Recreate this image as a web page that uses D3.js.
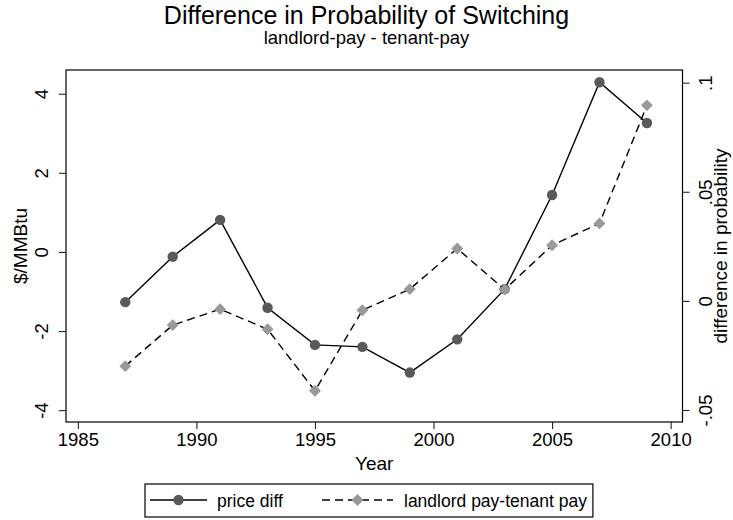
<!DOCTYPE html>
<html>
<head>
<meta charset="utf-8">
<script src="https://cdn.jsdelivr.net/npm/d3@7"></script>
<style>
  body { margin: 0; background: #fff; }
  svg text { font-family: "Liberation Sans", Arial, sans-serif; fill: #000; }
</style>
</head>
<body>
<div id="chart"></div>
<script>
// data
const years = [1987, 1989, 1991, 1993, 1995, 1997, 1999, 2001, 2003, 2005, 2007, 2009];
const priceDiff = [-1.27, -0.12, 0.81, -1.41, -2.35, -2.40, -3.05, -2.21, -0.94, 1.44, 4.29, 3.26];
const probDiff = [-0.0299, -0.0111, -0.0038, -0.0130, -0.0412, -0.0043, 0.0054, 0.0240, 0.0052, 0.0255, 0.0355, 0.0896];
const xTicks = [1985, 1990, 1995, 2000, 2005, 2010];
const leftTicks = [-4, -2, 0, 2, 4];
const rightTicks = [-0.05, 0, 0.05, 0.1];
const rightTickLabels = ["-.05", "0", ".05", ".1"];
const legendLabels = ["price diff", "landlord pay-tenant pay"];

const W = 733, H = 520;
const box = { left: 66, right: 682.5, top: 70, bottom: 422 };

const svg = d3.select("#chart").append("svg")
    .attr("width", W)
    .attr("height", H);

let x = d3.scaleLinear().domain([1984.5, 2010.5]).range([box.left, box.right]);
let y = d3.scaleLinear().domain([-4.3, 4.6]).range([box.bottom, box.top]);
let y2 = d3.scaleLinear().domain([-0.0555, 0.1058]).range([box.bottom, box.top]);

// titles
svg.append("text")
    .attr("x", W / 2).attr("y", 24)
    .attr("text-anchor", "middle")
    .style("font-size", "25px")
    .text("Difference in Probability of Switching");
svg.append("text")
    .attr("x", W / 2).attr("y", 44)
    .attr("text-anchor", "middle")
    .style("font-size", "18.5px")
    .text("landlord-pay - tenant-pay");

// plot region outline
svg.append("rect")
    .attr("x", box.left).attr("y", box.top)
    .attr("width", box.right - box.left)
    .attr("height", box.bottom - box.top)
    .attr("fill", "none")
    .attr("stroke", "#000")
    .attr("stroke-width", 1.2);

// x axis
let gx = svg.append("g")
    .attr("transform", "translate(0," + box.bottom + ")")
    .call(d3.axisBottom(x).tickValues(xTicks).tickSize(7).tickSizeOuter(0).tickFormat(d => String(d)));
gx.select(".domain").remove();
gx.selectAll("text").style("font-size", "18.5px").attr("y", 11).attr("dy", "0.71em");

// left axis
let gl = svg.append("g")
    .attr("transform", "translate(" + box.left + ",0)")
    .call(d3.axisLeft(y).tickValues(leftTicks).tickSize(7).tickSizeOuter(0).tickFormat(d => String(d)));
gl.select(".domain").remove();
gl.selectAll("text")
    .style("font-size", "18.5px")
    .attr("text-anchor", "middle")
    .attr("x", 0).attr("y", -18).attr("dy", 0)
    .attr("transform", "rotate(-90)");

// right axis
let gr = svg.append("g")
    .attr("transform", "translate(" + box.right + ",0)")
    .call(d3.axisRight(y2).tickValues(rightTicks).tickSize(7).tickSizeOuter(0)
        .tickFormat((d, i) => rightTickLabels[i]));
gr.select(".domain").remove();
gr.selectAll("text")
    .style("font-size", "18.5px")
    .attr("text-anchor", "middle")
    .attr("x", 0).attr("y", 29).attr("dy", 0)
    .attr("transform", "rotate(-90)");

svg.selectAll(".tick line").attr("stroke", "#222").attr("stroke-width", 1.1);

// axis titles
svg.append("text")
    .attr("x", (box.left + box.right) / 2).attr("y", 470)
    .attr("text-anchor", "middle")
    .style("font-size", "19px")
    .text("Year");
svg.append("text")
    .attr("transform", "translate(27," + (box.top + box.bottom) / 2 + ")rotate(-90)")
    .attr("text-anchor", "middle")
    .style("font-size", "19px")
    .text("$/MMBtu");
svg.append("text")
    .attr("transform", "translate(727," + (box.top + box.bottom) / 2 + ")rotate(-90)")
    .attr("text-anchor", "middle")
    .style("font-size", "19px")
    .text("difference in probability");

// series 1: price diff
const line1 = d3.line().x((d, i) => x(years[i])).y(d => y(d));
svg.append("path")
    .datum(priceDiff)
    .attr("d", line1)
    .attr("fill", "none")
    .attr("stroke", "#000")
    .attr("stroke-width", 1.4);
svg.selectAll(".dot1")
    .data(priceDiff)
    .enter()
    .append("circle")
    .attr("class", "dot1")
    .attr("cx", (d, i) => x(years[i]))
    .attr("cy", d => y(d))
    .attr("r", 5.2)
    .attr("fill", "#595959");

// series 2: landlord pay - tenant pay
const line2 = d3.line().x((d, i) => x(years[i])).y(d => y2(d));
svg.append("path")
    .datum(probDiff)
    .attr("d", line2)
    .attr("fill", "none")
    .attr("stroke", "#000")
    .attr("stroke-width", 1.4)
    .attr("stroke-dasharray", "8,5");
const diamond = d3.symbol().type(d3.symbolDiamond2).size(90);
svg.selectAll(".dot2")
    .data(probDiff)
    .enter()
    .append("path")
    .attr("class", "dot2")
    .attr("d", diamond)
    .attr("transform", (d, i) => "translate(" + x(years[i]) + "," + y2(d) + ")")
    .attr("fill", "#999999");

// legend
const legY = 500;
const keys = [
    { x0: 150, x1: 207, text: 217, dash: null, mark: "circle" },
    { x0: 322, x1: 393, text: 404, dash: "8,5", mark: "diamond" }
];
let legG = svg.append("g");
let lastEnd = 0;
keys.forEach((k, i) => {
    legG.append("line")
        .attr("x1", k.x0).attr("x2", k.x1)
        .attr("y1", legY).attr("y2", legY)
        .attr("stroke", "#000")
        .attr("stroke-width", 1.4)
        .attr("stroke-dasharray", k.dash);
    const cx = (k.x0 + k.x1) / 2;
    if (k.mark === "circle") {
        legG.append("circle").attr("cx", cx).attr("cy", legY).attr("r", 5.2).attr("fill", "#595959");
    } else {
        legG.append("path").attr("d", diamond)
            .attr("transform", "translate(" + cx + "," + legY + ")")
            .attr("fill", "#999999");
    }
    let t = legG.append("text")
        .attr("x", k.text).attr("y", legY + 6.5)
        .style("font-size", "17.5px")
        .text(legendLabels[i]);
    lastEnd = k.text + t.node().getComputedTextLength();
});
const legRight = lastEnd + 6;
const legLeft = 145;
legG.insert("rect", ":first-child")
    .attr("x", legLeft).attr("y", 484)
    .attr("width", legRight - legLeft)
    .attr("height", 33)
    .attr("fill", "#fff")
    .attr("stroke", "#000")
    .attr("stroke-width", 1.2);
</script>
</body>
</html>
